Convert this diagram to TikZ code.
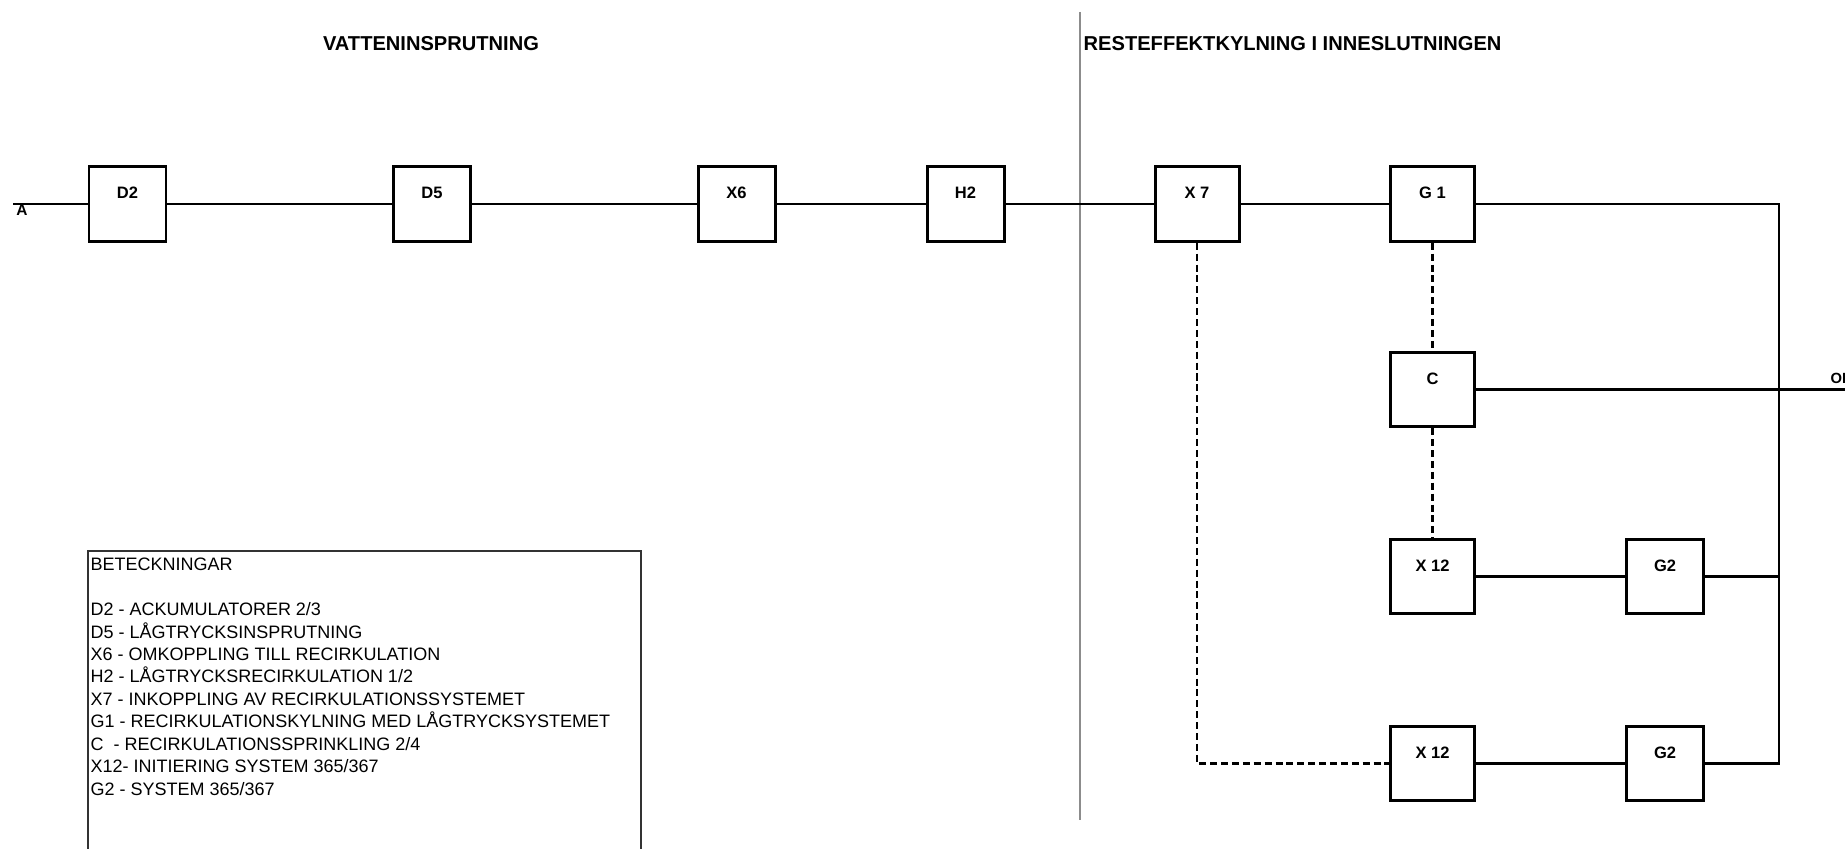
\documentclass[tikz,border=0pt]{standalone}
\usepackage{fontspec}
\setmainfont{Liberation Sans}
\usepackage{tikz}
\usetikzlibrary{positioning}
\definecolor{INK}{HTML}{000000}
\definecolor{RULE}{HTML}{8C8C8C}

\begin{document}
\begin{tikzpicture}[
  tag/.style={font=\fontsize{4.7}{5}\selectfont\bfseries, text=INK, yshift=0.11cm},
  blk/.style={draw=INK, line width=0.85pt, minimum width=0.77cm, minimum height=0.745cm, inner sep=0pt, label={[tag]center:#1}},
  wblk/.style={blk=#1, minimum width=0.84cm},
  wire/.style={draw=INK, line width=0.6pt},
  dashln/.style={draw=INK, line width=0.6pt, dash pattern=on 2pt off 1.1pt},
  head/.style={font=\fontsize{5.72}{6.5}\selectfont\bfseries, text=INK, inner sep=0pt}
]
\useasboundingbox (0,0) rectangle (18.45,8.48);

% section titles and divider
\node[head] (t1) at (4.31,8.04) {VATTENINSPRUTNING};
\node[head, anchor=west] (t2) at (10.83,8.04) {RESTEFFEKTKYLNING I INNESLUTNINGEN};
\draw[draw=RULE, line width=0.35pt] (10.80,8.36) -- (10.80,0.28);

% main line
\coordinate (a) at (0.13,6.44);
\node[font=\fontsize{4.4}{5}\selectfont\bfseries, inner sep=0pt] (alab) at (0.22,6.375) {A};
\node[blk=D2] (d2) at (1.275,6.44) {};
\node[blk=D5] (d5) at (4.32,6.44) {};
\node[blk=X6] (x6) at (7.365,6.44) {};
\node[blk=H2] (h2) at (9.655,6.44) {};
\node[wblk=X 7] (x7) at (11.97,6.44) {};
\node[wblk=G 1] (g1) at (14.325,6.44) {};
\draw[wire] (a) -- (d2) -- (d5) -- (x6) -- (h2) -- (x7) -- (g1);

% recirculation branch
\node[wblk=C] (c) at (14.325,4.585) {};
\node[wblk=X 12] (x12a) at (14.325,2.715) {};
\node[blk=G2] (g2a) at (16.65,2.715) {};
\node[wblk=X 12] (x12b) at (14.325,0.845) {};
\node[blk=G2] (g2b) at (16.65,0.845) {};
\coordinate (bt) at (17.79,6.44);
\coordinate (bb) at (17.79,0.845);
\coordinate (ok) at (18.60,4.60);
\node[font=\fontsize{4.2}{5}\selectfont\bfseries, anchor=west, inner sep=0pt] (oklab) at (18.30,4.70) {OK};

\draw[wire] (g1) -- (bt) -- (bb) -- (g2b);
\draw[wire] (g2a) -- (g2a -| bb);
\draw[wire] (c.east) -- (c.east -| ok);
\draw[wire] (x12a) -- (g2a);
\draw[wire] (x12b) -- (g2b);
\draw[dashln] (g1) -- (c);
\draw[dashln] (c) -- (x12a);
\draw[dashln] (x7.south) -- (x7 |- x12b) -- (x12b.west);

% legend
\draw[draw=INK!80, line width=0.35pt] (0.88,-0.2) |- (6.41,2.97) -- (6.41,-0.2);
\node[anchor=north west, align=left, inner sep=0pt, font=\fontsize{5.12}{6.38}\selectfont] (leg) at (0.90,2.905) {BETECKNINGAR\\[6.38pt]
D2 - ACKUMULATORER 2/3\\
D5 - LÅGTRYCKSINSPRUTNING\\
X6 - OMKOPPLING TILL RECIRKULATION\\
H2 - LÅGTRYCKSRECIRKULATION 1/2\\
X7 - INKOPPLING AV RECIRKULATIONSSYSTEMET\\
G1 - RECIRKULATIONSKYLNING MED LÅGTRYCKSYSTEMET\\
C\ \ - RECIRKULATIONSSPRINKLING 2/4\\
X12- INITIERING SYSTEM 365/367\\
G2 - SYSTEM 365/367};

\end{tikzpicture}
\end{document}
